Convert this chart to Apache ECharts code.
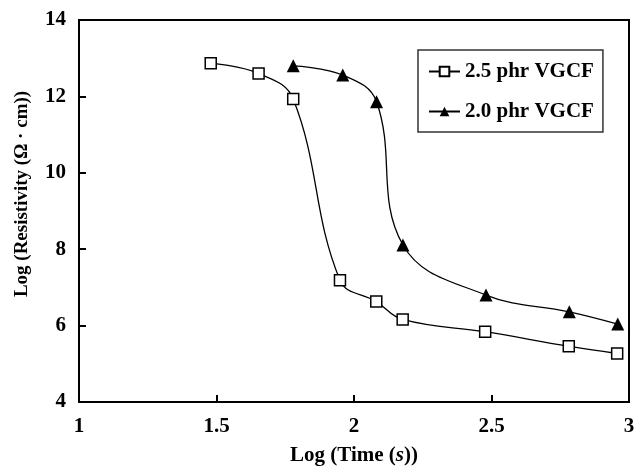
<!DOCTYPE html>
<html>
<head>
<meta charset="utf-8">
<script src="https://cdn.jsdelivr.net/npm/echarts@6/dist/echarts.min.js"></script>
<style>
	html, body { margin: 0; padding: 0; background: #fff; }
	#chart { width: 636px; height: 466px; }
</style>
</head>
<body>
<div id="chart"></div>
<script>
	// 2.5 phr VGCF (open squares)
	var time25 = [1.479, 1.653, 1.779, 1.949, 2.081, 2.177, 2.477, 2.781, 2.957];
	var res25 = [12.87, 12.60, 11.93, 7.19, 6.63, 6.16, 5.84, 5.46, 5.27];
	// 2.0 phr VGCF (filled triangles)
	var time20 = [1.779, 1.959, 2.082, 2.178, 2.480, 2.783, 2.959];
	var res20 = [12.80, 12.56, 11.86, 8.11, 6.80, 6.36, 6.04];

	var font = '"Liberation Serif", "Times New Roman", serif';

	function pairs(xs, ys) {
		var out = [];
		for (var i = 0; i < xs.length; i++) out.push([xs[i], ys[i]]);
		return out;
	}

	var chart = echarts.init(document.getElementById('chart'));
	var option = {
		backgroundColor: '#fff',
		animation: false,
		grid: {
			left: 79, right: 7, top: 20, bottom: 64,
			outerBoundsMode: 'none',
			containLabel: false,
			show: true, borderColor: '#000', borderWidth: 2
		},
		legend: {
			left: 418, top: 50,
			orient: 'vertical',
			itemGap: 19,
			itemWidth: 31,
			itemHeight: 12,
			padding: [11, 9, 10, 10],
			borderColor: '#333',
			borderWidth: 1.5,
			textStyle: { fontFamily: font, fontWeight: 'bold', fontSize: 21, color: '#000' },
			data: ['2.5 phr VGCF', '2.0 phr VGCF']
		},
		xAxis: {
			type: 'value',
			min: 1, max: 3, interval: 0.5,
			name: '{n|Log (Time (}{i|s}{n|))}',
			nameLocation: 'middle',
			nameGap: 43,
			nameTextStyle: {
				rich: {
					n: { fontFamily: font, fontWeight: 'bold', fontSize: 21, color: '#000' },
					i: { fontFamily: font, fontWeight: 'bold', fontStyle: 'italic', fontSize: 21, color: '#000' }
				}
			},
			axisLine: { lineStyle: { color: '#000', width: 2 } },
			axisTick: { inside: true, length: 7, lineStyle: { color: '#000', width: 2 } },
			axisLabel: { fontFamily: font, fontWeight: 'bold', fontSize: 21, color: '#000', margin: 14 },
			splitLine: { show: false }
		},
		yAxis: {
			type: 'value',
			min: 4, max: 14, interval: 2,
			name: 'Log (Resistivity (Ω · cm))',
			nameLocation: 'middle',
			nameGap: 47,
			nameTextStyle: {
				fontFamily: font, fontWeight: 'bold', fontSize: 19, color: '#000',
				padding: [0, 0, 0, 34]
			},
			axisLine: { lineStyle: { color: '#000', width: 2 } },
			axisTick: { inside: true, length: 7, lineStyle: { color: '#000', width: 2 } },
			axisLabel: { fontFamily: font, fontWeight: 'bold', fontSize: 21, color: '#000', margin: 13 },
			splitLine: { show: false }
		},
		series: [{
			name: '2.5 phr VGCF',
			type: 'line',
			smooth: 0.4,
			symbol: 'rect',
			symbolSize: 11,
			itemStyle: { color: '#fff', borderColor: '#000', borderWidth: 1.5 },
			lineStyle: { color: '#000', width: 1.3 },
			data: pairs(time25, res25)
		}, {
			name: '2.0 phr VGCF',
			type: 'line',
			smooth: 0.4,
			symbol: 'triangle',
			symbolSize: 13,
			itemStyle: { color: '#000', borderColor: '#000', borderWidth: 0 },
			lineStyle: { color: '#000', width: 1.3 },
			data: pairs(time20, res20)
		}]
	};
	chart.setOption(option);
</script>
</body>
</html>
